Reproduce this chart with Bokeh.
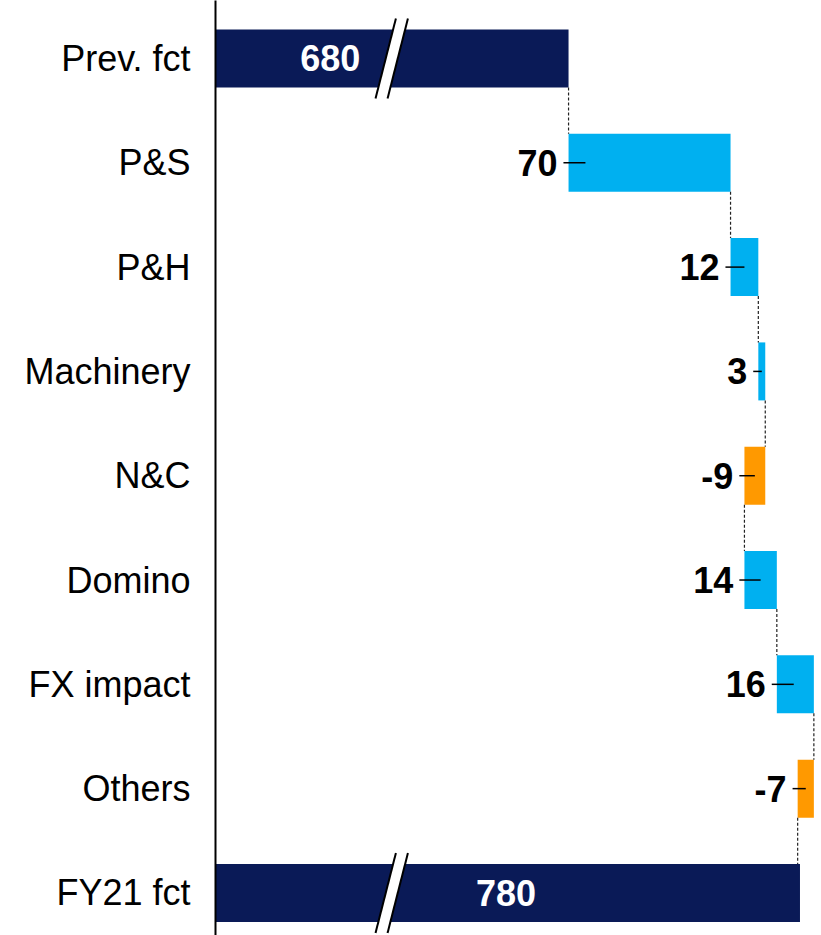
from bokeh.plotting import figure
from bokeh.models import Range1d, FixedTicker, ColumnDataSource, LinearAxis
from bokeh.embed import file_html
from bokeh.resources import INLINE
from bokeh.core.properties import value

# ---- data ----
categories = ["Prev. fct", "P&S", "P&H", "Machinery", "N&C", "Domino", "FX impact", "Others", "FY21 fct"]
start_total = 680
deltas = [70, 12, 3, -9, 14, 16, -7]
end_total = 780

NAVY = "#0A1A57"
BLUE = "#00B0F0"
ORANGE = "#FF9900"
FONT = "Liberation Sans"
BAR_H = 0.556

# ---- build geometry from data ----
n = len(categories)
ys = list(range(n))
lefts, rights, colors = [0], [start_total], [NAVY]
run = start_total
running = [start_total]
for d in deltas:
    new = run + d
    lefts.append(min(run, new))
    rights.append(max(run, new))
    colors.append(BLUE if d >= 0 else ORANGE)
    run = new
    running.append(run)
lefts.append(0)
rights.append(end_total)
colors.append(NAVY)
running.append(end_total)

x0 = 527.45
p = figure(width=821, height=935,
           x_range=Range1d(x0, 789.3), y_range=Range1d(8.408, -0.556),
           output_backend="svg", toolbar_location=None,
           x_axis_location=None, y_axis_location=None,
           min_border_left=215, min_border_right=0, min_border_top=0, min_border_bottom=0)
p.outline_line_color = None
p.xgrid.visible = False
p.ygrid.visible = False
p.background_fill_color = "white"

src = ColumnDataSource(dict(y=ys, left=[max(l, x0) for l in lefts], right=rights, color=colors))
p.hbar(y="y", left="left", right="right", height=BAR_H, fill_color="color", line_color=None, source=src)

# connectors
cx, cy = [], []
for i in range(n - 1):
    xv = running[i]
    cx.append([xv, xv])
    cy.append([i + BAR_H / 2, i + 1 - BAR_H / 2])
p.multi_line(cx, cy, line_color="#222222", line_width=1.2, line_dash="3 2")

# delta labels with leader ticks
lx, ly, lt, tx, ty = [], [], [], [], []
for k, d in enumerate(deltas):
    i = k + 1
    left = lefts[i]
    width = rights[i] - lefts[i]
    lx.append(left - 2.2)
    ly.append(i)
    lt.append(str(d))
    tx.append([left - 2.2, left + min(width / 2, 7.3)])
    ty.append([i, i])
p.multi_line(tx, ty, line_color="black", line_width=1.5)
p.text(x=lx, y=ly, text=lt, x_offset=-6, text_align="right", text_baseline="middle",
       text_font=value(FONT), text_font_size="36px", text_font_style="bold", text_color="black")

# total labels
p.text(x=[start_total - 103, end_total - 127], y=[0, n - 1],
       text=[str(start_total), str(end_total)], text_align="center", text_baseline="middle",
       text_font=value(FONT), text_font_size="36px", text_font_style="bold", text_color="white")

# axis breaks on total bars
bx0, bx1, gap = 596.6, 605.4, 5.2
ext = BAR_H / 2 + 0.105
for yc in [0, n - 1]:
    p.patch([bx0, bx0 + gap, bx1 + gap, bx1], [yc + ext, yc + ext, yc - ext, yc - ext],
            fill_color="white", line_color=None)
    p.multi_line([[bx0, bx1], [bx0 + gap, bx1 + gap]], [[yc + ext, yc - ext], [yc + ext, yc - ext]],
                 line_color="black", line_width=2)

# category axis
ax = LinearAxis(ticker=FixedTicker(ticks=ys),
                major_label_overrides={i: c for i, c in enumerate(categories)})
ax.major_tick_line_color = None
ax.minor_tick_line_color = None
ax.axis_line_color = "black"
ax.axis_line_width = 2
ax.major_label_standoff = 19
ax.major_label_text_font = FONT
ax.major_label_text_font_size = "36px"
ax.major_label_text_color = "black"
p.add_layout(ax, "left")

open("out.html", "w").write(file_html(p, INLINE))
